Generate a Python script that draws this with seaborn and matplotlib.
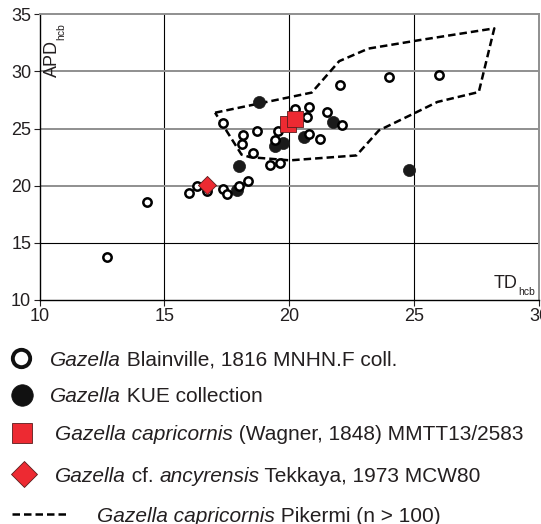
import matplotlib
matplotlib.use('Agg')
import matplotlib.pyplot as plt
import seaborn as sns
import pandas as pd
from matplotlib.lines import Line2D

# ---------------- data ----------------
open_x = [12.72, 14.32, 16.00, 16.32, 16.70, 17.33, 17.52, 18.00, 18.33, 17.33,
          18.13, 18.09, 18.72, 18.53, 19.23, 19.63, 19.53, 19.43, 20.25, 20.80,
          20.72, 21.52, 22.13, 20.80, 21.23, 22.04, 24.01, 26.01]
open_y = [13.72, 18.60, 19.40, 20.00, 19.55, 19.74, 19.28, 20.00, 20.45, 25.50,
          24.42, 23.65, 24.80, 22.90, 21.78, 22.00, 24.77, 24.04, 26.70, 26.88,
          26.05, 26.43, 25.30, 24.56, 24.05, 28.80, 29.50, 29.70]

kue_x = [18.80, 18.00, 19.43, 19.73, 17.92, 20.59, 21.77, 24.79]
kue_y = [27.35, 21.76, 23.50, 23.75, 19.62, 24.25, 25.58, 21.40]

mmtt_x = [19.93, 20.25]
mmtt_y = [25.38, 25.87]

mcw_x = [16.69]
mcw_y = [20.03]

pik_x = [17.03, 20.90, 22.00, 23.17, 25.24, 28.21, 27.59, 25.93, 24.97, 23.59,
         22.69, 20.03, 18.43, 18.09, 17.03]
pik_y = [26.39, 28.15, 30.90, 32.00, 32.75, 33.77, 28.20, 27.33, 26.30, 24.84,
         22.65, 22.22, 22.50, 22.72, 26.39]

x_ticks = [10, 15, 20, 25, 30]
y_ticks = [10, 15, 20, 25, 30, 35]

legend_rows = [
    [("Gazella", True), (" Blainville, 1816 MNHN.F coll.", False)],
    [("Gazella", True), (" KUE collection", False)],
    [("Gazella capricornis", True), (" (Wagner, 1848) MMTT13/2583", False)],
    [("Gazella", True), (" cf. ", False), ("ancyrensis", True), (" Tekkaya, 1973 MCW80", False)],
    [("Gazella capricornis", True), (" Pikermi (n > 100)", False)],
]

# ---------------- style ----------------
sns.set_style('ticks')
plt.rcParams['font.family'] = ['Liberation Sans', 'DejaVu Sans']
TXT = '#231f20'
RED = '#ED2A32'
GRAY = '#8f8f8f'
DASH = (0, (3.0, 1.6))

W, H = 541, 524
fig = plt.figure(figsize=(W / 100, H / 100), dpi=100)
fig.patch.set_facecolor('white')


def fx(px):
    return px / W


def fy(py):
    return 1 - py / H


ax = fig.add_axes([fx(39.5), fy(300), fx(539) - fx(39.5), fy(14.3) - fy(300)])
ax.set_xlim(10, 30)
ax.set_ylim(10, 35)
ax.set_xticks(x_ticks)
ax.set_yticks(y_ticks)

# grid lines
for xv in x_ticks[1:-1]:
    ax.axvline(xv, color='black', lw=0.8, zorder=0)
for yv in y_ticks[1:-1]:
    if yv == 15:
        ax.axhline(yv, color='black', lw=0.8, zorder=0)
    else:
        ax.axhline(yv, color=GRAY, lw=1.4, zorder=0)

for s in ['left', 'bottom']:
    ax.spines[s].set_color('black')
    ax.spines[s].set_linewidth(1.0)
for s in ['top', 'right']:
    ax.spines[s].set_color(GRAY)
    ax.spines[s].set_linewidth(1.4)

ax.tick_params(direction='out', length=4, width=0.8, labelsize=13,
               pad=2, colors=TXT, top=False, right=False)

# Pikermi polygon
ax.plot(pik_x, pik_y, color='black', lw=1.8, linestyle=DASH, zorder=2,
        dash_capstyle='butt')

# points
sns.scatterplot(x=kue_x, y=kue_y, ax=ax, marker='o', s=76, color='#1a1a1a',
                edgecolor='#1a1a1a', linewidth=0.5, zorder=3, legend=False)
sns.scatterplot(x=open_x, y=open_y, ax=ax, marker='o', s=36, color='white',
                edgecolor='black', linewidth=1.8, zorder=4, legend=False)
sns.scatterplot(x=mmtt_x, y=mmtt_y, ax=ax, marker='s', s=135, color=RED,
                edgecolor='#5a1c1c', linewidth=0.6, zorder=5, legend=False)
sns.scatterplot(x=mcw_x, y=mcw_y, ax=ax, marker='D', s=85, color=RED,
                edgecolor='#5a1c1c', linewidth=0.6, zorder=6, legend=False)
ax.set_xlabel('')
ax.set_ylabel('')

# axis labels inside plot
fig.text(fx(52.5), fy(77), 'APD', rotation=90, ha='center', va='bottom',
         fontsize=13, color=TXT)
fig.text(fx(61.5), fy(40), 'hcb', rotation=90, ha='center', va='bottom',
         fontsize=7.5, color=TXT)
fig.text(fx(518), fy(288), 'TD', ha='right', va='baseline',
         fontsize=13, color=TXT)
fig.text(fx(518.5), fy(295), 'hcb', ha='left', va='baseline',
         fontsize=7.5, color=TXT)

# ---------------- legend ----------------
renderer = fig.canvas.get_renderer()
row_y = [358, 395, 432.5, 474, 514]
text_x = [50, 50, 55, 55, 97]
for runs, yy, xx in zip(legend_rows, row_y, text_x):
    cur = fx(xx)
    for txt, ital in runs:
        t = fig.text(cur, fy(yy), txt, ha='left', va='center_baseline',
                     fontsize=15, color=TXT,
                     style='italic' if ital else 'normal')
        bb = t.get_window_extent(renderer=renderer)
        cur = cur + bb.width / W

tf = fig.transFigure
fig.add_artist(Line2D([fx(21)], [fy(358)], transform=tf, marker='o',
                      markersize=12.5, markerfacecolor='white',
                      markeredgecolor='#111', markeredgewidth=2.8, linestyle='none'))
fig.add_artist(Line2D([fx(21.5)], [fy(395)], transform=tf, marker='o',
                      markersize=15.5, markerfacecolor='#111',
                      markeredgecolor='#111', markeredgewidth=0.5, linestyle='none'))
fig.add_artist(Line2D([fx(21.5)], [fy(432.5)], transform=tf, marker='s',
                      markersize=14.5, markerfacecolor=RED,
                      markeredgecolor='#5a1c1c', markeredgewidth=0.6, linestyle='none'))
fig.add_artist(Line2D([fx(24)], [fy(474)], transform=tf, marker='D',
                      markersize=13.5, markerfacecolor=RED,
                      markeredgecolor='#5a1c1c', markeredgewidth=0.6, linestyle='none'))
fig.add_artist(Line2D([fx(12), fx(68)], [fy(514), fy(514)], transform=tf,
                      color='black', lw=1.8, linestyle=DASH, dash_capstyle='butt'))

fig.savefig('out.png', dpi=100, facecolor='white')
